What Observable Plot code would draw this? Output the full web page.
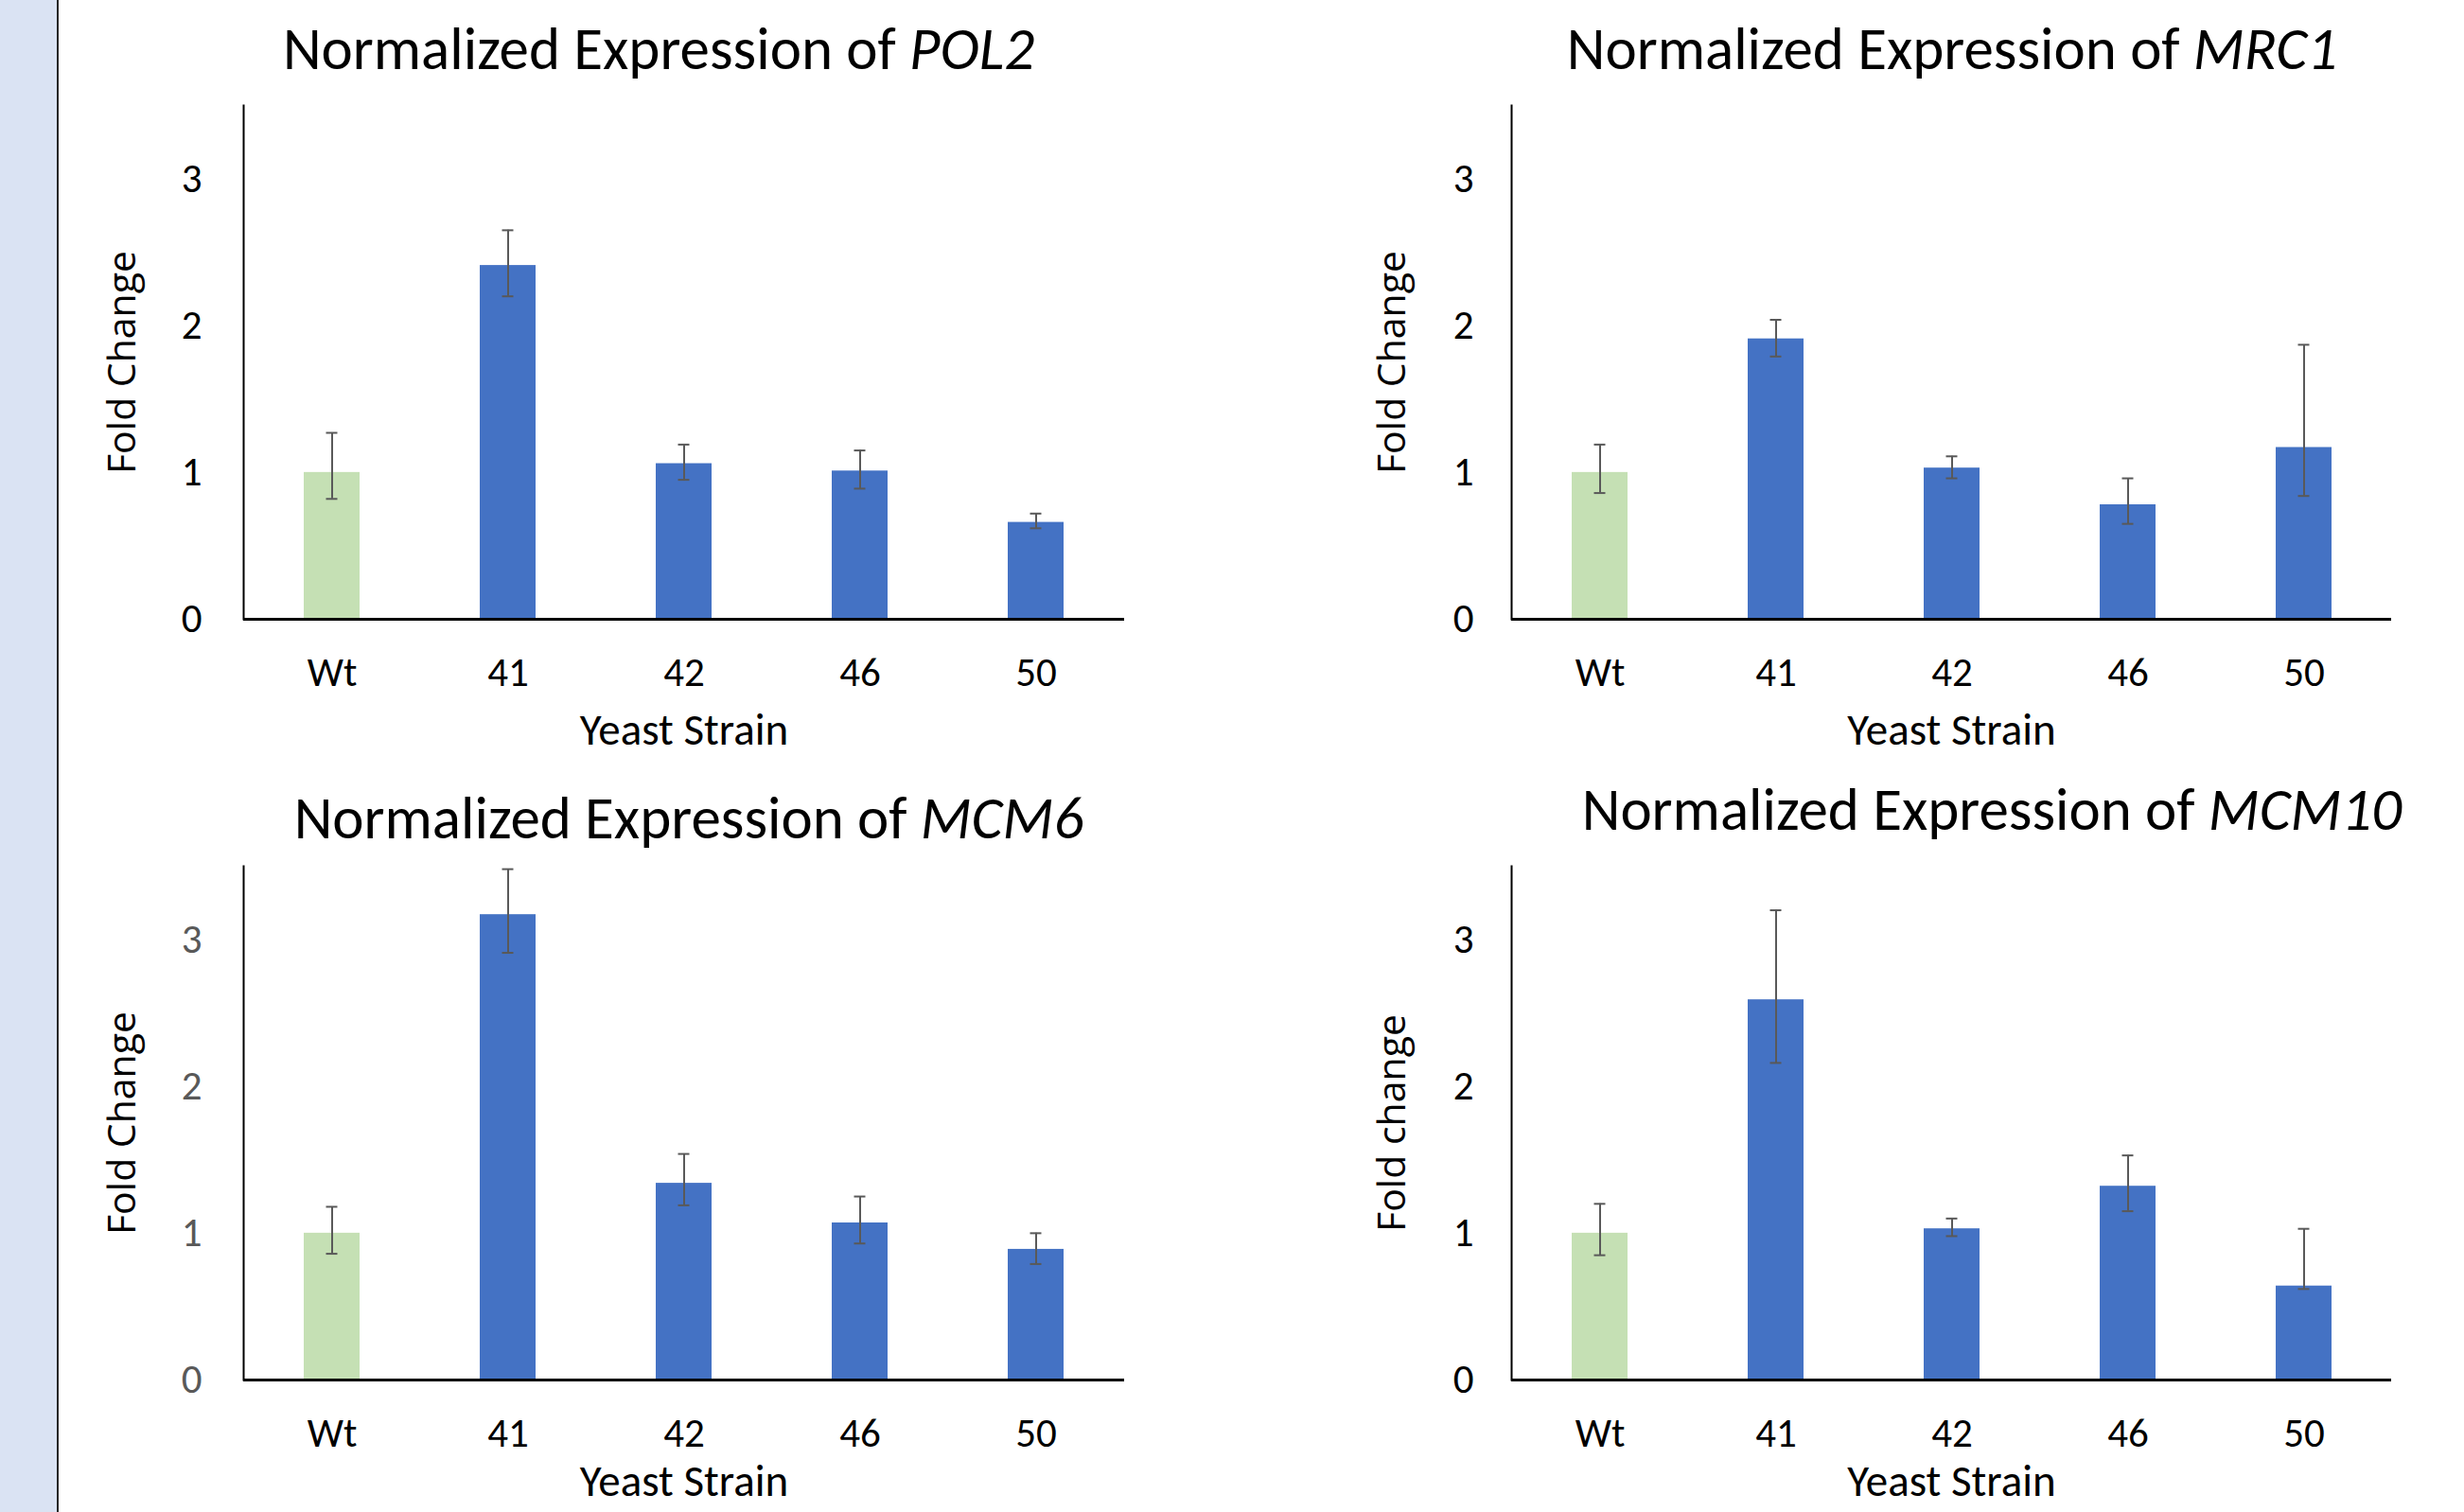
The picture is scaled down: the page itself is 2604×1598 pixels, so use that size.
<!DOCTYPE html>
<html>
<head>
<meta charset="utf-8">
<script src="https://cdn.jsdelivr.net/npm/d3@7"></script>
<script src="https://cdn.jsdelivr.net/npm/@observablehq/plot@0.6"></script>
<style>
  html, body { margin: 0; padding: 0; background: #ffffff; overflow: hidden; }
  #chart { position: relative; width: 2604px; height: 1598px; overflow: hidden; background: #ffffff; }
  #strip { position: absolute; left: 0; top: 0; width: 60px; height: 1598px; background: #dae3f3; border-right: 2px solid #262626; }
  .panel { position: absolute; }
  .title { position: absolute; font-family: Carlito, Lato, sans-serif; font-size: 63px; line-height: 1; white-space: nowrap; color: #000; transform: translateX(-50%); }
</style>
</head>
<body>
<div id="chart"><div id="strip"></div></div>
<script>
// ---------------- data ----------------
const strains = ["Wt", "41", "42", "46", "50"];
const yTicks = [0, 1, 2, 3];

const genes = ["POL2", "MRC1", "MCM6", "MCM10"];
const yLabels = ["Fold Change", "Fold Change", "Fold Change", "Fold change"];
const xLabel = "Yeast Strain";

const pol2Mean = [1.00, 2.41, 1.06, 1.01, 0.66];
const pol2Low  = [0.82, 2.20, 0.95, 0.89, 0.62];
const pol2High = [1.27, 2.65, 1.19, 1.15, 0.72];

const mrc1Mean = [1.00, 1.91, 1.03, 0.78, 1.17];
const mrc1Low  = [0.86, 1.79, 0.96, 0.65, 0.84];
const mrc1High = [1.19, 2.04, 1.11, 0.96, 1.87];

const mcm6Mean = [1.00, 3.17, 1.34, 1.07, 0.89];
const mcm6Low  = [0.86, 2.91, 1.19, 0.93, 0.79];
const mcm6High = [1.18, 3.48, 1.54, 1.25, 1.00];

const mcm10Mean = [1.00, 2.59, 1.03, 1.32, 0.64];
const mcm10Low  = [0.85, 2.16, 0.98, 1.15, 0.62];
const mcm10High = [1.20, 3.20, 1.10, 1.53, 1.03];

// ---------------- layout / style ----------------
const GREEN = "#c5e0b4", BLUE = "#4472c4", ERR = "#595959";
const M = {left: 200, right: 60, top: 100, bottom: 160};
const panels = [
  {mean: pol2Mean, low: pol2Low, high: pol2High, frame: [257, 1188, 111, 654], tickColor: "#000", tickPad: 44, yLabDx: -128, xLabDy: 99, title: {cx: 696, top: 20}},
  {mean: mrc1Mean, low: mrc1Low, high: mrc1High, frame: [1597, 2527, 111, 654], tickColor: "#000", tickPad: 40, yLabDx: -126, xLabDy: 99, title: {cx: 2063, top: 20}},
  {mean: mcm6Mean, low: mcm6Low, high: mcm6High, frame: [257, 1188, 915, 1458], tickColor: "#595959", tickPad: 44, yLabDx: -128, xLabDy: 89, title: {cx: 728, top: 833}},
  {mean: mcm10Mean, low: mcm10Low, high: mcm10High, frame: [1597, 2527, 915, 1458], tickColor: "#000", tickPad: 40, yLabDx: -126, xLabDy: 89, title: {cx: 2105, top: 824}}
];

const chart = document.getElementById("chart");

panels.forEach((p, i) => {
  const rows = strains.map((s, j) => ({
    strain: s,
    group: s === "Wt" ? "wild type" : "mutant",
    value: p.mean[j], lo: p.low[j], hi: p.high[j]
  }));
  const [x0, x1, y0, y1] = p.frame;
  const left = x0 - M.left, top = y0 - M.top;
  const width = x1 + M.right - left;
  const height = y1 + M.bottom - top;

  const svg = Plot.plot({
    width, height,
    marginLeft: M.left, marginRight: M.right, marginTop: M.top, marginBottom: M.bottom,
    style: {fontFamily: "Carlito, Lato, sans-serif", fontSize: "43px", color: "#000", background: "transparent", overflow: "visible"},
    x: {domain: strains, paddingInner: 0.684, paddingOuter: 0.342, axis: null},
    y: {domain: [0, 3.5], axis: null},
    color: {domain: ["wild type", "mutant"], range: [GREEN, BLUE]},
    marks: [
      Plot.barY(rows, {x: "strain", y: "value", fill: "group"}),
      Plot.ruleX(rows, {x: "strain", y1: "lo", y2: "hi", stroke: ERR, strokeWidth: 2}),
      Plot.tickY(rows, {x: "strain", y: "lo", stroke: ERR, strokeWidth: 2, insetLeft: 23.5, insetRight: 23.5}),
      Plot.tickY(rows, {x: "strain", y: "hi", stroke: ERR, strokeWidth: 2, insetLeft: 23.5, insetRight: 23.5}),
      Plot.ruleY([0], {stroke: "#000", strokeWidth: 3}),
      Plot.frame({anchor: "left", stroke: "#000", strokeWidth: 2}),
      Plot.axisY({ticks: yTicks, tickSize: 0, tickPadding: p.tickPad, tickFormat: "d", label: null, fill: p.tickColor}),
      Plot.axisX({tickSize: 0, tickPadding: 40, label: null, fill: "#000"}),
      Plot.text([yLabels[i]], {text: d => d, frameAnchor: "left", textAnchor: "middle", dx: p.yLabDx, rotate: -90, fontFamily: "'Open Sans', sans-serif", fontSize: 41, fill: "#000"}),
      Plot.text([xLabel], {text: d => d, frameAnchor: "bottom", dy: p.xLabDy, lineAnchor: "top", fontSize: 47, fill: "#000"})
    ]
  });
  svg.classList.add("panel");
  svg.style.left = left + "px";
  svg.style.top = top + "px";
  chart.appendChild(svg);

  const t = document.createElement("div");
  t.className = "title";
  t.style.left = p.title.cx + "px";
  t.style.top = p.title.top + "px";
  t.innerHTML = "Normalized Expression of <i>" + genes[i] + "</i>";
  chart.appendChild(t);
});
</script>
</body>
</html>
